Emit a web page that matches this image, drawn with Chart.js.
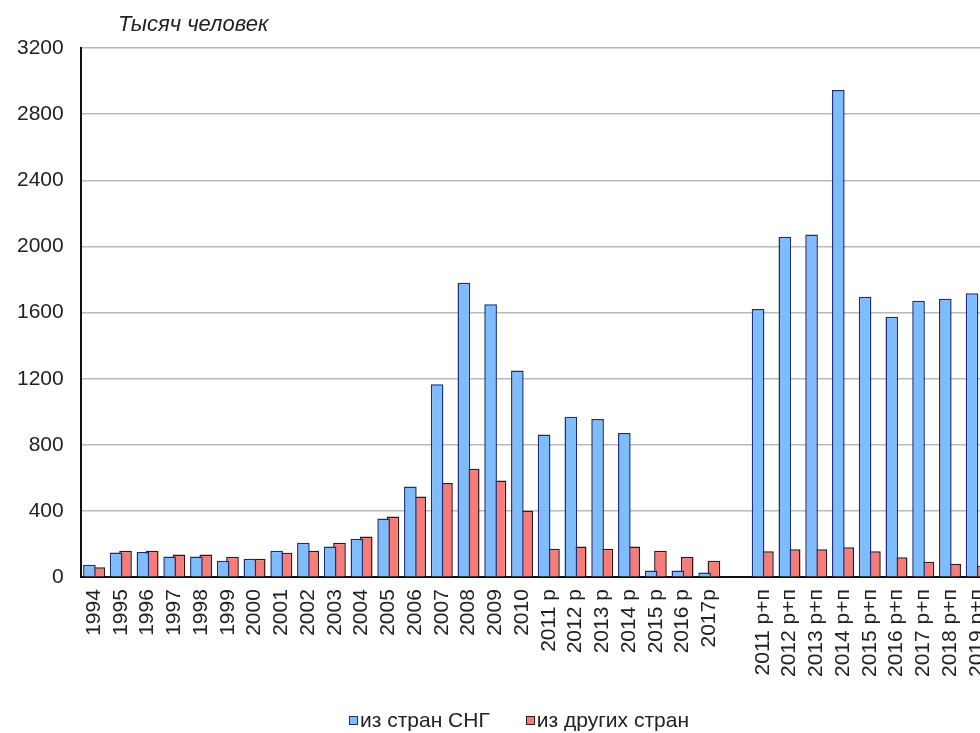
<!DOCTYPE html>
<html>
<head>
<meta charset="utf-8">
<script src="https://cdn.jsdelivr.net/npm/chart.js@4/dist/chart.umd.min.js"></script>
<style>
  html, body { margin: 0; padding: 0; background: #fff; overflow: hidden; }
  #wrap { position: relative; width: 980px; height: 733px; overflow: hidden; }
  #myChart { position: absolute; left: 0; top: 0; }
  #titulo { position: absolute; left: 118px; top: 12px; font: italic 22px "Liberation Sans", Arial, sans-serif; color: #222; line-height: 24px; }
  #legenda { position: absolute; left: 349px; top: 708px; font: 21px "Liberation Sans", Arial, sans-serif; color: #222; line-height: 24px; display: flex; align-items: center; white-space: nowrap; }
  #legenda .caixa { display: inline-block; width: 7px; height: 7px; margin-right: 2px; }
  #legenda .item { display: flex; align-items: center; margin-right: 36px; }
</style>
</head>
<body>
<div id="wrap">
  <canvas id="myChart" width="1014" height="733"></canvas>
  <div id="titulo">Тысяч человек</div>
  <div id="legenda"></div>
</div>
<script>
// categorias (a posição vazia separa as duas séries de anos)
var anos = ["1994", "1995", "1996", "1997", "1998", "1999", "2000", "2001", "2002", "2003",
    "2004", "2005", "2006", "2007", "2008", "2009", "2010",
    "2011 р", "2012 р", "2013 р", "2014 р", "2015 р", "2016 р", "2017р", "",
    "2011 р+п", "2012 р+п", "2013 р+п", "2014 р+п", "2015 р+п", "2016 р+п", "2017 р+п", "2018 р+п", "2019 р+п"]

// тысяч человек
var daCEI = [75, 149, 152, 125, 125, 99, 111, 160, 208, 185,
    232, 355, 548, 1166, 1781, 1650, 1250,
    862, 970, 957, 872, 40, 40, 28, null,
    1622, 2058, 2072, 2946, 1696, 1574, 1672, 1684, 1717]
var outrosPaises = [60, 160, 160, 137, 137, 123, 111, 147, 160, 208,
    246, 367, 487, 570, 655, 584, 401,
    172, 185, 172, 185, 160, 123, 99, null,
    156, 168, 168, 180, 156, 120, 93, 81, 69]

var nomesSeries = ["из стран СНГ", "из других стран"]
var ticksY = [0, 400, 800, 1200, 1600, 2000, 2400, 2800, 3200]

var fonte = '"Liberation Sans", Arial, sans-serif'

var ctx = document.getElementById('myChart').getContext('2d')
var grafico = new Chart(ctx, {
    type: 'bar',
    data: {
        labels: anos,
        datasets: [
            {
                label: nomesSeries[0],
                data: daCEI,
                backgroundColor: '#7dbdfb',
                borderColor: '#1f2c7a',
                borderWidth: 1.5
            },
            {
                label: nomesSeries[1],
                data: outrosPaises,
                backgroundColor: '#f77c78',
                borderColor: '#2a1a1a',
                borderWidth: 1.5
            }
        ]
    },
    options: {
        responsive: false,
        animation: false,
        // barPercentage > 1 faz as barras se sobreporem como no Excel
        categoryPercentage: 0.7,
        barPercentage: 1.35,
        layout: { padding: { top: 48, left: 0, right: 5, bottom: 44 } },
        plugins: {
            legend: { display: false },
            tooltip: { enabled: false }
        },
        scales: {
            x: {
                grid: { display: false, drawTicks: false },
                border: { display: true, color: '#111', width: 2 },
                ticks: {
                    autoSkip: false,
                    minRotation: 90,
                    maxRotation: 90,
                    padding: 12,
                    color: '#222',
                    font: { family: fonte, size: 21 }
                }
            },
            y: {
                min: 0,
                max: ticksY[ticksY.length - 1],
                afterBuildTicks: function (axis) {
                    axis.ticks = ticksY.map(function (v) { return { value: v } })
                },
                grid: { color: '#b9b9b9', lineWidth: 1.5, drawTicks: false },
                border: { display: true, color: '#111', width: 2 },
                ticks: {
                    padding: 17,
                    color: '#222',
                    font: { family: fonte, size: 21 },
                    callback: function (v) { return String(v) }
                }
            }
        }
    }
})

// legenda feita em html
var legenda = document.getElementById('legenda')
grafico.data.datasets.forEach(function (ds) {
    var item = document.createElement('span')
    item.className = 'item'
    var caixa = document.createElement('span')
    caixa.className = 'caixa'
    caixa.style.background = ds.backgroundColor
    caixa.style.border = '1px solid ' + ds.borderColor
    var texto = document.createElement('span')
    texto.textContent = ds.label
    item.appendChild(caixa)
    item.appendChild(texto)
    legenda.appendChild(item)
})
</script>
</body>
</html>
